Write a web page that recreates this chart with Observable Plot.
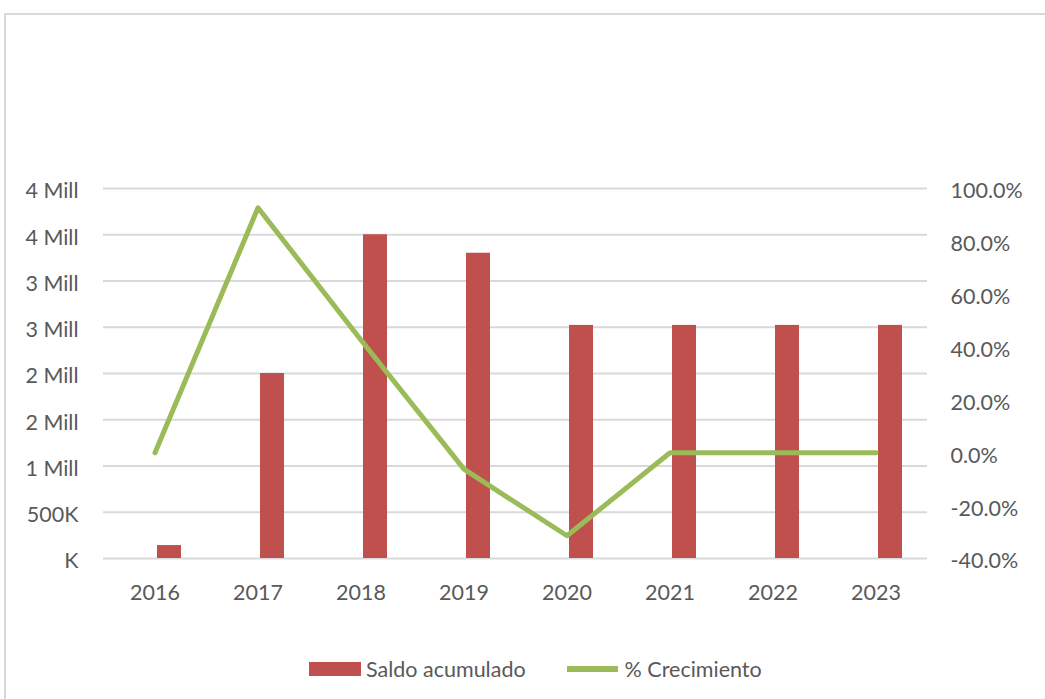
<!DOCTYPE html>
<html><head><meta charset="utf-8">
<script src="https://cdn.jsdelivr.net/npm/d3@7"></script>
<script src="https://cdn.jsdelivr.net/npm/@observablehq/plot@0.6"></script>
<style>
body{margin:0;background:#fff;font-family:Lato,"Open Sans",sans-serif;}
#frame{position:absolute;left:4px;top:13px;width:1100px;height:800px;border:2px solid #d9d9d9;box-sizing:border-box;z-index:2;pointer-events:none;}
#chart{position:absolute;left:0;top:0;}
#legend{position:absolute;top:656px;left:309px;display:flex;align-items:center;font-size:21.5px;color:#595959;white-space:nowrap;}
.sw{display:inline-block;}
</style></head><body>
<div id="chart"></div><div id="legend"></div><div id="frame"></div>
<script>
const years = ["2016","2017","2018","2019","2020","2021","2022","2023"];
const saldo = [140000, 2000000, 3500000, 3300000, 2520000, 2520000, 2520000, 2520000];
const crecimiento = [0.0, 0.927, 0.427, -0.062, -0.314, 0.0, 0.0, 0.0];
const leftTicks = [0, 500000, 1000000, 1500000, 2000000, 2500000, 3000000, 3500000, 4000000];
const leftTickLabels = ["K","500K","1 Mill","2 Mill","2 Mill","3 Mill","3 Mill","4 Mill","4 Mill"];
const rightTicks = [1.0, 0.8, 0.6, 0.4, 0.2, 0.0, -0.2, -0.4];
const rightTickLabels = ["100.0%","80.0%","60.0%","40.0%","20.0%","0.0%","-20.0%","-40.0%"];
const seriesNames = ["Saldo acumulado", "% Crecimiento"];
const colors = ["#C0504D", "#9BBB59"];

const pMin = -0.4, pMax = 1.0, yMax = 4000000;
const toY = p => (p - pMin) / (pMax - pMin) * yMax;
const data = years.map((y, i) => ({year: y, saldo: saldo[i], pctY: toY(crecimiento[i])}));
const leftMap = new Map(leftTicks.map((v, i) => [v, leftTickLabels[i]]));
const rightVals = rightTicks.map(toY);
const rightMap = new Map(rightVals.map((v, i) => [v, rightTickLabels[i]]));
const FS = 21.5;

const chart = Plot.plot({
  width: 1045, height: 630,
  marginTop: 188, marginBottom: 72, marginLeft: 103, marginRight: 118,
  style: {fontFamily: "Lato, 'Open Sans', sans-serif", fontSize: FS + "px", color: "#595959", background: "white"},
  x: {domain: years, padding: 0, axis: null},
  y: {domain: [0, yMax], axis: null},
  marks: [
    Plot.ruleY(leftTicks, {stroke: "#d9d9d9", strokeWidth: 2}),
    Plot.barY(data, {x: "year", y: "saldo", fill: colors[0], insetLeft: 54, insetRight: 25}),
    Plot.line(data, {x: "year", y: "pctY", stroke: colors[1], strokeWidth: 5, strokeLinejoin: "round"}),
    Plot.axisX({tickSize: 0, tickPadding: 26, fontSize: FS, fill: "#595959", label: null}),
    Plot.axisY(leftTicks, {anchor: "left", tickSize: 0, tickPadding: 25, dy: 3, fontSize: FS, fill: "#595959", label: null, tickFormat: d => leftMap.get(d)}),
    Plot.axisY(rightVals, {anchor: "right", tickSize: 0, tickPadding: 23, dy: 3, fontSize: FS, fill: "#595959", label: null, textAnchor: "start", tickFormat: d => rightMap.get(d)})
  ]
});
document.getElementById("chart").appendChild(chart);

const leg = document.getElementById("legend");
leg.innerHTML =
  `<span class="sw" style="width:52px;height:14px;background:${colors[0]};margin-right:5px"></span><span>${seriesNames[0]}</span>` +
  `<span class="sw" style="width:51px;height:6px;background:${colors[1]};margin-left:41px;margin-right:7px"></span><span>${seriesNames[1]}</span>`;
</script>
</body></html>
